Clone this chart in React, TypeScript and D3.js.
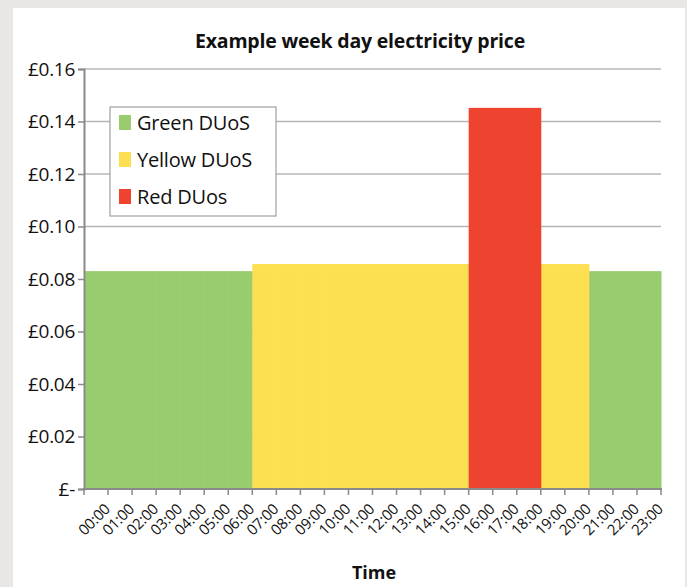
import React, { useEffect, useRef } from "react";
import * as d3 from "d3";

const times = [
  "00:00", "01:00", "02:00", "03:00", "04:00", "05:00", "06:00", "07:00",
  "08:00", "09:00", "10:00", "11:00", "12:00", "13:00", "14:00", "15:00",
  "16:00", "17:00", "18:00", "19:00", "20:00", "21:00", "22:00", "23:00",
];

// price per kWh for each hour, one array per DUoS band (null = not in band)
const greenDuos = [
  0.083, 0.083, 0.083, 0.083, 0.083, 0.083, 0.083, null,
  null, null, null, null, null, null, null, null,
  null, null, null, null, null, 0.083, 0.083, 0.083,
];
const yellowDuos = [
  null, null, null, null, null, null, null, 0.0857,
  0.0857, 0.0857, 0.0857, 0.0857, 0.0857, 0.0857, 0.0857, 0.0857,
  null, null, null, 0.0857, 0.0857, null, null, null,
];
const redDuos = [
  null, null, null, null, null, null, null, null,
  null, null, null, null, null, null, null, null,
  0.1452, 0.1452, 0.1452, null, null, null, null, null,
];

const yTicks = [0, 0.02, 0.04, 0.06, 0.08, 0.1, 0.12, 0.14, 0.16];

const series = [
  { name: "Green DUoS", color: "#98cc6f", values: greenDuos },
  { name: "Yellow DUoS", color: "#fddf52", values: yellowDuos },
  { name: "Red DUos", color: "#ee432e", values: redDuos },
];

const App: React.FC = () => {
  const ref = useRef<SVGSVGElement>(null);

  useEffect(() => {
    const width = 687;
    const height = 587;
    const margin = { top: 69, right: 26, bottom: 98, left: 84 };
    const font = "'Open Sans', 'Noto Sans', sans-serif";

    const svg = d3.select(ref.current);
    svg.selectAll("*").remove();

    // page background and white panel
    svg.append("rect").attr("width", width).attr("height", height).attr("fill", "#e9e6e3");
    svg
      .append("rect")
      .attr("x", 13)
      .attr("y", 8)
      .attr("width", 672)
      .attr("height", height - 8)
      .attr("fill", "#ffffff");

    const x = d3
      .scaleBand<string>()
      .domain(times)
      .range([margin.left, width - margin.right])
      .padding(0);

    const y = d3
      .scaleLinear()
      .domain([0, 0.16])
      .range([height - margin.bottom, margin.top]);

    // gridlines
    svg
      .append("g")
      .selectAll("line")
      .data(yTicks.slice(1))
      .join("line")
      .attr("x1", margin.left)
      .attr("x2", width - margin.right)
      .attr("y1", (d) => y(d))
      .attr("y2", (d) => y(d))
      .attr("stroke", "#b4b6b4")
      .attr("stroke-width", 1.5);

    // bars
    series.forEach((s) => {
      svg
        .append("g")
        .selectAll("rect")
        .data(times.map((t, i) => ({ t, v: s.values[i] })).filter((d) => d.v != null))
        .join("rect")
        .attr("x", (d) => x(d.t)!)
        .attr("width", x.bandwidth() + 0.5)
        .attr("y", (d) => y(d.v as number))
        .attr("height", (d) => y(0) - y(d.v as number))
        .attr("fill", s.color);
    });

    // y axis
    const yAxis = svg
      .append("g")
      .attr("transform", `translate(${margin.left},0)`)
      .call(
        d3
          .axisLeft(y)
          .tickValues(yTicks)
          .tickSize(6)
          .tickPadding(3)
          .tickFormat((d) => (d === 0 ? "£-" : d3.format("$.2f")(d as number).replace("$", "£")))
      );
    yAxis.select(".domain").attr("stroke", "#8a8a8a").attr("stroke-width", 2);
    yAxis.selectAll(".tick line").attr("stroke", "#8a8a8a").attr("stroke-width", 1.5);
    yAxis
      .selectAll(".tick text")
      .attr("font-family", font)
      .attr("font-size", 19)
      .attr("letter-spacing", -0.3)
      .attr("fill", "#111");

    // x axis
    const xTickPos = d3.range(times.length + 1).map((i) => margin.left + i * x.step());
    const xAxis = svg.append("g").attr("transform", `translate(0,${y(0)})`);
    xAxis
      .selectAll("line")
      .data(xTickPos)
      .join("line")
      .attr("x1", (d) => d)
      .attr("x2", (d) => d)
      .attr("y1", 0)
      .attr("y2", 6)
      .attr("stroke", "#8a8a8a")
      .attr("stroke-width", 1.5);
    xAxis
      .append("line")
      .attr("x1", margin.left - 1)
      .attr("x2", width - margin.right + 1)
      .attr("stroke", "#8a8a8a")
      .attr("stroke-width", 2);
    xAxis
      .selectAll("text")
      .data(times)
      .join("text")
      .attr(
        "transform",
        (d) => `translate(${x(d)! + x.bandwidth() / 2 + 15},${21}) rotate(-45)`
      )
      .attr("text-anchor", "end")
      .attr("font-family", font)
      .attr("font-size", 15)
      .attr("letter-spacing", -0.2)
      .attr("fill", "#111")
      .text((d) => d);

    // legend
    const legend = svg.append("g").attr("transform", "translate(110,107)");
    legend
      .append("rect")
      .attr("width", 166)
      .attr("height", 109)
      .attr("fill", "#fff")
      .attr("stroke", "#a0a0a0")
      .attr("stroke-width", 1.2);
    series.forEach((s, i) => {
      const row = legend.append("g").attr("transform", `translate(9,${16 + i * 37})`);
      row.append("rect").attr("x", 0).attr("y", -8).attr("width", 12).attr("height", 15).attr("fill", s.color);
      row
        .append("text")
        .attr("x", 18)
        .attr("y", 7)
        .attr("font-family", font)
        .attr("font-size", 20)
        .attr("letter-spacing", -0.2)
        .attr("fill", "#111")
        .text(s.name);
    });

    // title and axis title
    svg
      .append("text")
      .attr("x", 360)
      .attr("y", 48)
      .attr("text-anchor", "middle")
      .attr("font-family", font)
      .attr("font-weight", "bold")
      .attr("font-size", 19.5)
      .attr("letter-spacing", -0.2)
      .attr("fill", "#111")
      .text("Example week day electricity price");
    svg
      .append("text")
      .attr("x", 374)
      .attr("y", 579)
      .attr("text-anchor", "middle")
      .attr("font-family", font)
      .attr("font-weight", "bold")
      .attr("font-size", 18)
      .attr("fill", "#111")
      .text("Time");
  }, []);

  return (
    <svg
      ref={ref}
      width={687}
      height={587}
      style={{ position: "absolute", left: 0, top: 0, display: "block" }}
    />
  );
};

export default App;
